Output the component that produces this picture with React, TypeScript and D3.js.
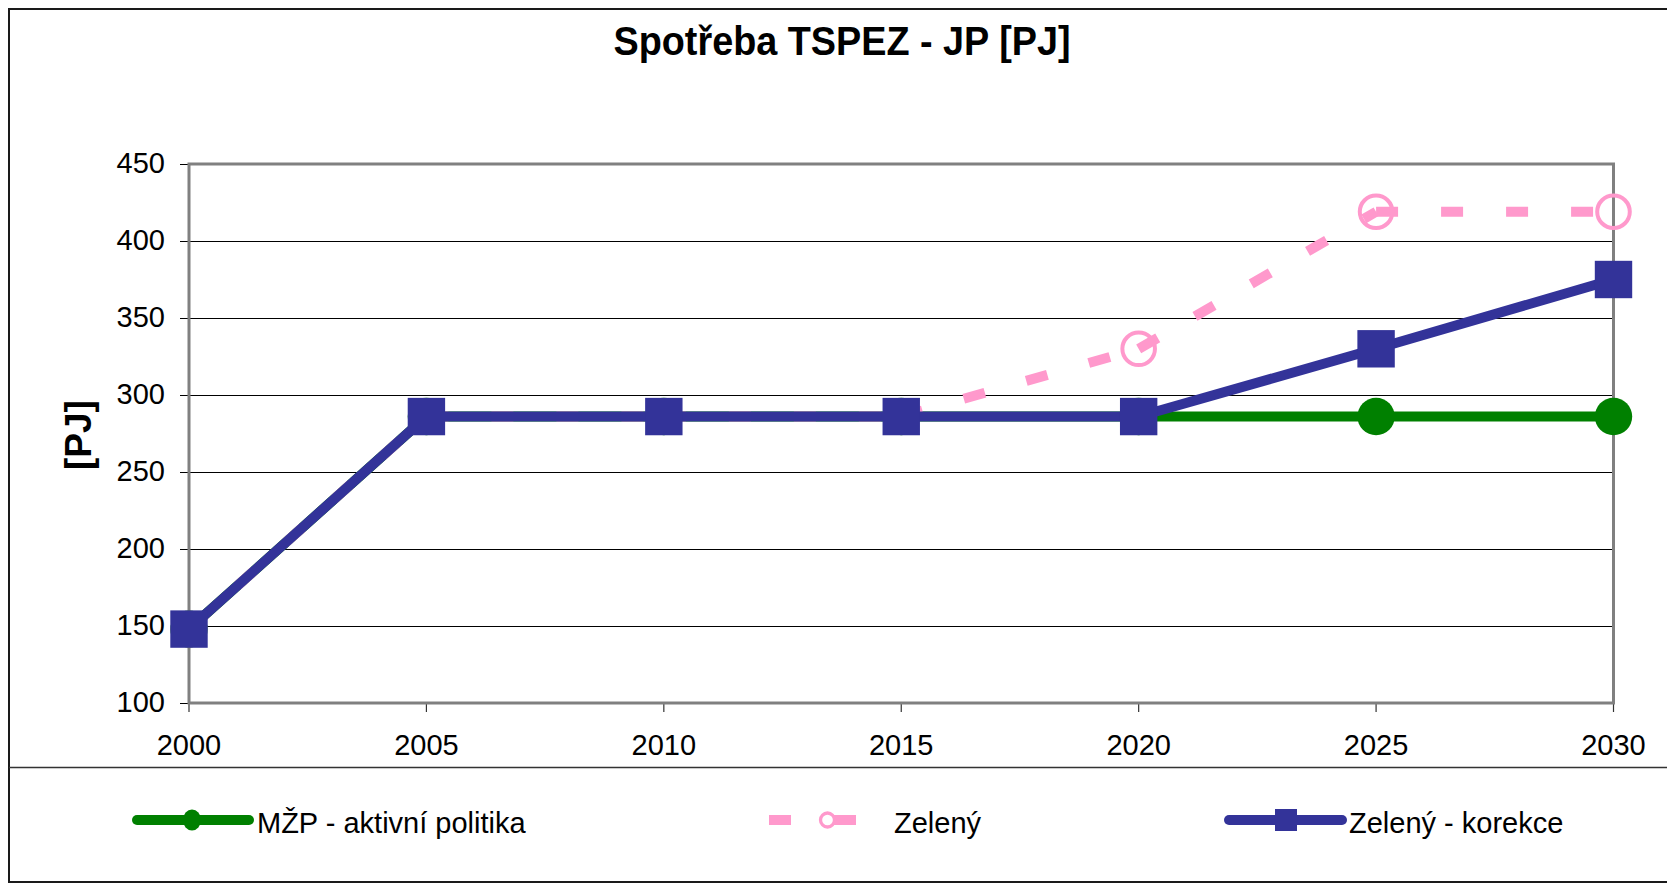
import React from "react";
import * as d3 from "d3";

const years = [2000, 2005, 2010, 2015, 2020, 2025, 2030];
const mzpAktivni = [148, 286, 286, 286, 286, 286, 286];
const zeleny = [148, 286, 286, 286, 330, 419, 419];
const zelenyKorekce = [148, 286, 286, 286, 286, 330, 375];
const yTicks = [100, 150, 200, 250, 300, 350, 400, 450];
const xTicks = [2000, 2005, 2010, 2015, 2020, 2025, 2030];
const seriesNames = ["MŽP - aktivní politika", "Zelený", "Zelený - korekce"];
const title = "Spotřeba TSPEZ - JP [PJ]";
const yTitle = "[PJ]";

const GREEN = "#008000";
const PINK = "#FF99CC";
const BLUE = "#333399";
const FONT = "'Liberation Sans', Arial, sans-serif";

export default function App() {
  const W = 1667;
  const H = 885;
  const left = 189;
  const right = 1613.5;
  const top = 164;
  const bottom = 703;

  const x = d3.scaleLinear().domain([2000, 2030]).range([left, right]);
  const y = d3.scaleLinear().domain([100, 450]).range([bottom, top]);

  const line = d3
    .line<[number, number]>()
    .x((d) => x(d[0]))
    .y((d) => y(d[1]));

  const pts = (vals: number[]) => years.map((yr, i) => [yr, vals[i]] as [number, number]);
  const green = pts(mzpAktivni);
  const pink = pts(zeleny);
  const blue = pts(zelenyKorekce);

  const pinkSegs = pink.slice(0, -1).map((p, i) => [p, pink[i + 1]] as [number, number][]);

  const legY = 820;

  return (
    <svg
      width={W}
      height={H}
      style={{ position: "absolute", left: 0, top: 0, overflow: "hidden" }}
      fontFamily={FONT}
    >
      <rect x={0} y={0} width={W} height={H} fill="#fff" />
      {/* outer chart border */}
      <rect x={9} y={9} width={W + 20} height={873} fill="none" stroke="#1a1a1a" strokeWidth={2} />
      {/* legend separator */}
      <line x1={9} x2={W} y1={767.5} y2={767.5} stroke="#333" strokeWidth={1.6} />

      {/* title */}
      <text
        transform={`translate(842,55) scale(1,1.08)`}
        textAnchor="middle"
        fontSize={37.8}
        fontWeight="bold"
        fill="#000"
      >
        {title}
      </text>

      {/* y axis title */}
      <text
        transform={`translate(91,435) rotate(-90)`}
        textAnchor="middle"
        fontSize={37}
        fontWeight="bold"
        fill="#000"
      >
        {yTitle}
      </text>

      {/* gridlines */}
      {yTicks
        .filter((t) => t !== 100 && t !== 450)
        .map((t) => (
          <line key={"g" + t} x1={left} x2={right} y1={Math.round(y(t)) + 0.5} y2={Math.round(y(t)) + 0.5} stroke="#000" strokeWidth={1} />
        ))}

      {/* y ticks & labels */}
      {yTicks.map((t) => (
        <g key={"yt" + t}>
          <line x1={180} x2={left} y1={Math.round(y(t)) + 0.5} y2={Math.round(y(t)) + 0.5} stroke="#000" strokeWidth={1} />
          <text x={165} y={y(t) + 8.5} textAnchor="end" fontSize={29} fill="#000">
            {t}
          </text>
        </g>
      ))}

      {/* x ticks & labels */}
      {xTicks.map((t) => (
        <g key={"xt" + t}>
          <line x1={x(t)} x2={x(t)} y1={bottom} y2={712} stroke="#333" strokeWidth={1.2} />
          <text x={x(t)} y={755} textAnchor="middle" fontSize={29} fill="#000">
            {t}
          </text>
        </g>
      ))}

      {/* plot border */}
      <rect x={left} y={top} width={right - left} height={bottom - top} fill="none" stroke="#808080" strokeWidth={3} />

      {/* series 1: green */}
      <path d={line(green) || ""} fill="none" stroke={GREEN} strokeWidth={10} strokeLinejoin="round" />
      {green.map((d, i) => (
        <circle key={"gc" + i} cx={x(d[0])} cy={y(d[1])} r={18.7} fill={GREEN} />
      ))}

      {/* series 2: pink dashed */}
      {pinkSegs.map((seg, i) => (
        <path key={"ps" + i} d={line(seg) || ""} fill="none" stroke={PINK} strokeWidth={10} strokeDasharray="22 43" />
      ))}
      {pink.map((d, i) => (
        <circle key={"pc" + i} cx={x(d[0])} cy={y(d[1])} r={16.3} fill="none" stroke={PINK} strokeWidth={4} />
      ))}

      {/* series 3: blue */}
      <path d={line(blue) || ""} fill="none" stroke={BLUE} strokeWidth={10} strokeLinejoin="round" />
      {blue.map((d, i) => (
        <rect key={"bs" + i} x={x(d[0]) - 18.7} y={y(d[1]) - 18.7} width={37.4} height={37.4} fill={BLUE} />
      ))}

      {/* legend */}
      <g>
        <line x1={137} x2={249} y1={legY} y2={legY} stroke={GREEN} strokeWidth={10} strokeLinecap="round" />
        <ellipse cx={192} cy={legY} rx={9} ry={10.5} fill={GREEN} />
        <text x={257} y={832.5} fontSize={29} fill="#000">
          {seriesNames[0]}
        </text>

        <line x1={769} x2={886} y1={legY} y2={legY} stroke={PINK} strokeWidth={10} strokeDasharray="22 43" />
        <circle cx={827.5} cy={legY} r={7} fill="none" stroke={PINK} strokeWidth={3.3} />
        <text x={894} y={832.5} fontSize={29} fill="#000">
          {seriesNames[1]}
        </text>

        <line x1={1229} x2={1342} y1={legY} y2={legY} stroke={BLUE} strokeWidth={10} strokeLinecap="round" />
        <rect x={1275} y={legY - 11} width={22} height={22} fill={BLUE} />
        <text x={1349} y={832.5} fontSize={29} fill="#000">
          {seriesNames[2]}
        </text>
      </g>
    </svg>
  );
}
